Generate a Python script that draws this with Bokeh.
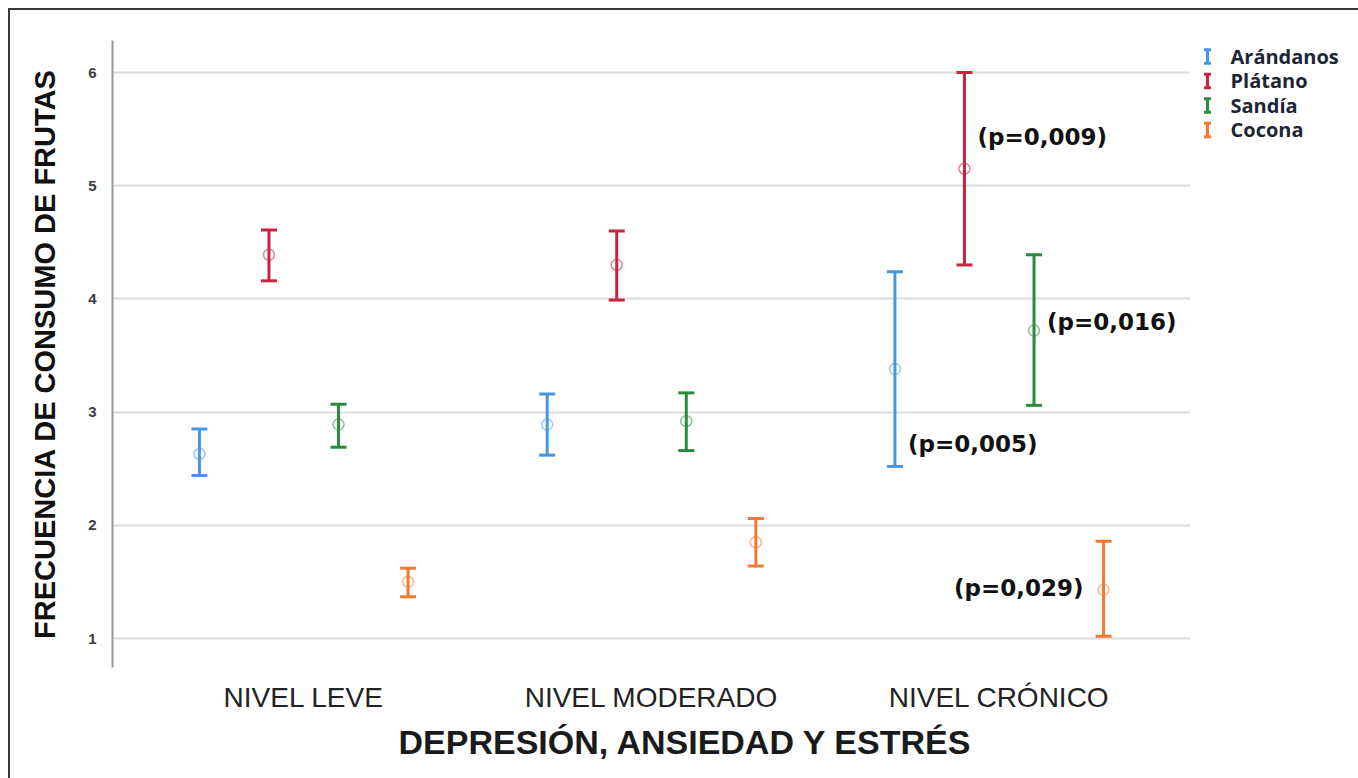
from bokeh.plotting import figure
from bokeh.models import Range1d, FixedTicker, Whisker, TeeHead, ColumnDataSource, Title
from bokeh.layouts import row
from bokeh.core.properties import value
from bokeh.embed import file_html
from bokeh.resources import INLINE

# ---------------- data ----------------
categories = ["NIVEL LEVE", "NIVEL MODERADO", "NIVEL CRÓNICO"]
series = ["Arándanos", "Plátano", "Sandía", "Cocona"]
colors = ["#4a96de", "#c8243d", "#2a8a3c", "#f07a32"]

arandanos_mean = [2.63, 2.89, 3.38]
arandanos_low = [2.44, 2.62, 2.52]
arandanos_high = [2.85, 3.16, 4.24]

platano_mean = [4.39, 4.30, 5.15]
platano_low = [4.16, 3.99, 4.30]
platano_high = [4.61, 4.60, 6.00]

sandia_mean = [2.89, 2.92, 3.72]
sandia_low = [2.69, 2.66, 3.06]
sandia_high = [3.07, 3.17, 4.39]

cocona_mean = [1.50, 1.85, 1.43]
cocona_low = [1.37, 1.64, 1.02]
cocona_high = [1.62, 2.06, 1.86]

means = [arandanos_mean, platano_mean, sandia_mean, cocona_mean]
lows = [arandanos_low, platano_low, sandia_low, cocona_low]
highs = [arandanos_high, platano_high, sandia_high, cocona_high]

y_ticks = [1, 2, 3, 4, 5, 6]

# p-value annotations (all in NIVEL CRÓNICO)
p_texts = ["(p=0,005)", "(p=0,009)", "(p=0,016)", "(p=0,029)"]
p_series = [0, 1, 2, 3]
p_y = [2.72, 5.43, 3.80, 1.45]

# ---------------- main figure ----------------
p = figure(width=1180, height=768,
           x_range=Range1d(0.45, 3.55), y_range=Range1d(0.744, 6.283),
           output_backend="svg", toolbar_location=None,
           min_border_left=102, min_border_right=0,
           min_border_top=30, min_border_bottom=111)
p.outline_line_color = None
p.background_fill_color = "white"
p.border_fill_color = "white"

p.xgrid.visible = False
p.ygrid.grid_line_color = "#dcdcdc"
p.ygrid.grid_line_width = 2

p.yaxis.ticker = FixedTicker(ticks=y_ticks)
p.yaxis.axis_line_color = "#8c9aa6"
p.yaxis.axis_line_width = 2
p.yaxis.major_tick_line_color = None
p.yaxis.minor_tick_line_color = None
p.yaxis.major_label_text_font = "Liberation Sans"
p.yaxis.major_label_text_font_size = "15px"
p.yaxis.major_label_text_font_style = "bold"
p.yaxis.major_label_text_color = "#3c3c3c"
p.yaxis.major_label_standoff = 10
p.yaxis.axis_label = "FRECUENCIA DE CONSUMO DE FRUTAS"
p.yaxis.axis_label_text_font = "Liberation Sans"
p.yaxis.axis_label_text_font_size = "29px"
p.yaxis.axis_label_text_font_style = "bold"
p.yaxis.axis_label_text_color = "#111111"
p.yaxis.axis_label_standoff = 24

p.xaxis.ticker = FixedTicker(ticks=[1, 2, 3])
p.xaxis.major_label_overrides = {i + 1: c for i, c in enumerate(categories)}
p.xaxis.axis_line_color = None
p.xaxis.major_tick_line_color = None
p.xaxis.minor_tick_line_color = None
p.xaxis.major_label_text_font = "Liberation Sans"
p.xaxis.major_label_text_font_size = "28px"
p.xaxis.major_label_text_color = "#222222"
p.xaxis.major_label_standoff = 8

xt = Title(text="DEPRESIÓN, ANSIEDAD Y ESTRÉS", align="left", offset=286,
           text_font="Liberation Sans", text_font_size="34px",
           text_font_style="bold", text_color="#1a1a1a")
p.add_layout(xt, "below")

offsets = [-0.3, -0.1, 0.1, 0.3]
xs_all = []
for s, name in enumerate(series):
    xs = [i + 1 + offsets[s] for i in range(len(categories))]
    xs_all.append(xs)
    src = ColumnDataSource(dict(x=xs, mean=means[s], lower=lows[s], upper=highs[s]))
    w = Whisker(source=src, base="x", lower="lower", upper="upper", dimension="height",
                line_color=colors[s], line_width=3,
                upper_head=TeeHead(size=16, line_color=colors[s], line_width=3),
                lower_head=TeeHead(size=16, line_color=colors[s], line_width=3))
    p.add_layout(w)
    p.scatter(x="x", y="mean", source=src, marker="circle", size=11,
              fill_color=None, line_color=colors[s], line_alpha=0.55, line_width=1.5)

for t, s, yv in zip(p_texts, p_series, p_y):
    xv = xs_all[s][2]
    right = s == 3
    p.text(x=[xv], y=[yv], text=[t],
           x_offset=-20 if right else 13,
           text_align="right" if right else "left", text_baseline="middle",
           text_font=value("DejaVu Sans"), text_font_style="bold",
           text_font_size="23px", text_color="#111111")

# ---------------- legend figure ----------------
# its frame is aligned with the main frame (about 627 px high)
lf = figure(width=168, height=768, x_range=Range1d(0, 168),
            y_range=Range1d(24.94, -0.653), output_backend="svg",
            toolbar_location=None, x_axis_type=None, y_axis_type=None,
            min_border=0)
lf.grid.visible = False
lf.outline_line_color = None
lf.background_fill_color = "white"
lf.border_fill_color = "white"

idx = list(range(len(series)))
half = 0.28
lf.segment(x0=[17] * 4, x1=[17] * 4, y0=[i - half for i in idx], y1=[i + half for i in idx],
           line_color=colors, line_width=3)
lf.segment(x0=[13.5] * 4, x1=[20.5] * 4, y0=[i - half for i in idx], y1=[i - half for i in idx],
           line_color=colors, line_width=3)
lf.segment(x0=[13.5] * 4, x1=[20.5] * 4, y0=[i + half for i in idx], y1=[i + half for i in idx],
           line_color=colors, line_width=3)
lf.text(x=[40] * 4, y=idx, text=series, text_baseline="middle",
        text_font=value("Open Sans"), text_font_style="bold",
        text_font_size="20px", text_color="#1c2633")

layout = row(p, lf, styles={"border-left": "2px solid #3a3a3a",
                            "border-top": "2px solid #3a3a3a",
                            "margin-left": "8px", "margin-top": "8px"})

open("out.html", "w").write(file_html(layout, INLINE))
